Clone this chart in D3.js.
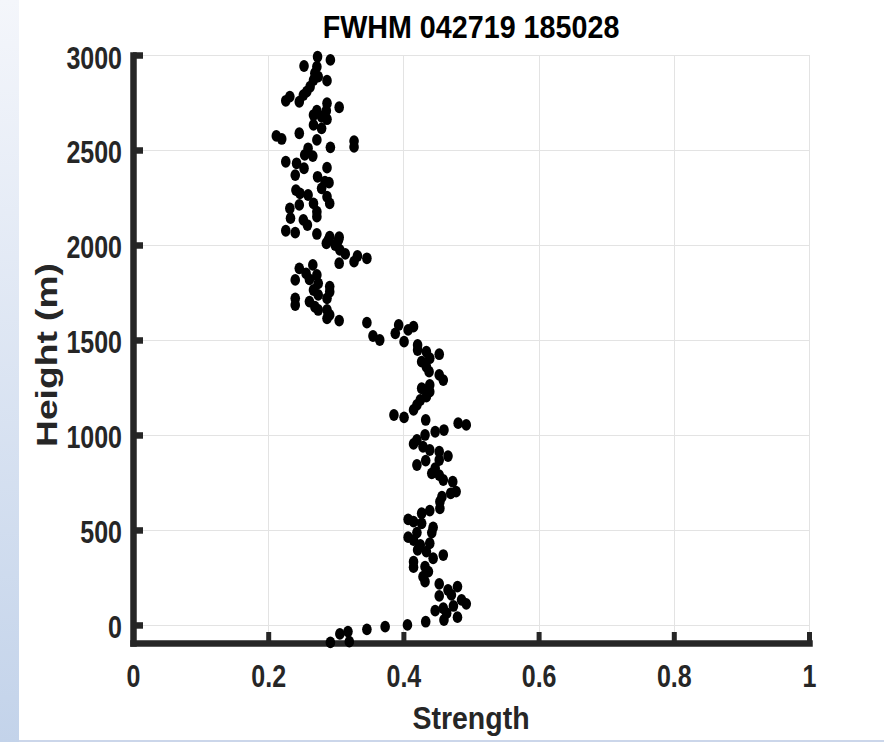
<!DOCTYPE html>
<html>
<head>
<meta charset="utf-8">
<title>FWHM 042719 185028</title>
<script src="https://d3js.org/d3.v7.min.js"></script>
<style>
  body { margin: 0; background: #fff; }
  svg { display: block; }
</style>
</head>
<body>
<svg id="chart" width="884" height="742"></svg>
<script>
// values, top of the profile first
const strength = [
  0.273,0.292,0.253,0.272,0.269,0.274,0.267,0.287,0.262,0.257,0.252,0.232,0.226,0.246,0.287,0.305,
  0.272,0.286,0.267,0.279,0.287,0.267,0.279,0.212,0.220,0.246,0.272,0.292,0.327,0.327,0.259,0.254,
  0.266,0.226,0.242,0.253,0.287,0.240,0.273,0.284,0.290,0.241,0.247,0.279,0.259,0.287,0.291,0.267,
  0.246,0.232,0.272,0.233,0.252,0.272,0.258,0.226,0.240,0.272,0.291,0.305,
  0.289,0.304,0.286,0.299,0.306,0.314,0.332,0.346,0.327,0.305,0.246,0.266,0.256,0.272,0.240,0.261,
  0.274,0.291,0.267,0.291,0.274,0.287,0.240,0.240,0.261,0.269,0.274,0.287,0.291,0.287,0.305,0.346,
  0.355,0.365,0.388,0.386,
  0.393,0.407,0.415,0.401,0.421,0.421,0.434,0.453,0.439,0.427,0.434,0.438,0.453,0.459,0.439,0.427,
  0.439,0.434,0.425,0.420,0.415,0.401,0.433,0.481,0.493,0.460,0.447,0.432,0.420,0.415,0.429,0.439,
  0.453,0.466,0.453,0.433,0.420,0.447,0.442,0.453,0.459,0.473,0.478,0.470,0.457,
  0.454,0.454,0.439,0.427,0.407,0.415,0.427,0.444,0.442,0.420,0.407,0.415,0.439,0.425,0.421,0.434,
  0.459,0.444,0.415,0.415,0.432,0.437,0.429,0.432,0.453,0.466,0.480,0.453,0.471,0.486,0.493,0.474,
  0.459,0.447,0.464,0.460,0.480,0.433,0.406,0.373,
  0.292,0.306,0.318,0.320,0.346
];
const height = [
  2991,2974,2942,2938,2904,2886,2868,2865,2833,2807,2789,2781,2759,2754,2746,2725,
  2707,2707,2684,2675,2662,2632,2614,2574,2558,2588,2553,2514,2547,2516,2509,2474,
  2468,2438,2430,2404,2407,2368,2359,2333,2328,2289,2272,2298,2263,2254,2219,2219,
  2211,2193,2175,2141,2132,2149,2105,2075,2065,2058,2044,2041,
  2026,2026,2009,2000,1974,1953,1942,1930,1912,1904,1877,1895,1851,1842,1816,1819,
  1798,1781,1763,1754,1737,1719,1719,1684,1702,1675,1658,1658,1632,1614,1602,1591,
  1521,1500,1535,1105,
  1579,1553,1570,1491,1474,1447,1438,1425,1404,1386,1359,1333,1316,1289,1263,1246,
  1228,1202,1184,1158,1132,1093,1079,1062,1053,1026,1017,1000,974,953,938,921,
  912,889,868,865,842,825,798,789,763,754,702,693,675,
  649,614,602,588,556,544,535,514,486,486,462,447,430,421,395,386,
  368,351,333,304,307,281,254,228,216,184,202,153,158,132,111,100,
  88,75,62,26,41,17,0,-9,
  -92,-47,-35,-88,-23
];
const xTicks = [0, 0.2, 0.4, 0.6, 0.8, 1];
const xTickLabels = ['0', '0.2', '0.4', '0.6', '0.8', '1'];
const yTicks = [0, 500, 1000, 1500, 2000, 2500, 3000];
const yTickLabels = ['0', '500', '1000', '1500', '2000', '2500', '3000'];

const titleText = 'FWHM 042719 185028';
const xLabel = 'Strength';
const yLabel = 'Height (m)';

const font = '"Liberation Sans", Arial, Helvetica, sans-serif';
const ink = '#262626';

const svg = d3.select('#chart');

// light blue strip on the left and thin line at the bottom of the window
const grad = svg.append('defs').append('linearGradient')
  .attr('id', 'strip').attr('x1', 0).attr('y1', 0).attr('x2', 0).attr('y2', 1);
grad.append('stop').attr('offset', '0%').attr('stop-color', '#f4f6fb');
grad.append('stop').attr('offset', '100%').attr('stop-color', '#c3d3ea');
svg.append('rect').attr('x', 0).attr('y', 0).attr('width', 19).attr('height', 742).attr('fill', 'url(#strip)');
svg.append('rect').attr('x', 19).attr('y', 740).attr('width', 865).attr('height', 2).attr('fill', '#cbd6ea');

const x = d3.scaleLinear().domain([0, 1]).range([133, 809]);
const y = d3.scaleLinear().domain([-95, 3000]).range([643, 55]);

// grid
const grid = svg.append('g').attr('stroke', '#e3e3e3').attr('stroke-width', 1);
grid.selectAll('line.v').data(xTicks).join('line').attr('class', 'v')
  .attr('x1', d => Math.round(x(d)) + 0.5).attr('x2', d => Math.round(x(d)) + 0.5)
  .attr('y1', y(3000)).attr('y2', y(-95));
grid.selectAll('line.h').data(yTicks).join('line').attr('class', 'h')
  .attr('x1', x(0)).attr('x2', x(1))
  .attr('y1', d => Math.round(y(d)) + 0.5).attr('y2', d => Math.round(y(d)) + 0.5);

// axes (ticks point inwards, thick lines like the original)
const yAxis = d3.axisLeft(y).tickValues(yTicks).tickFormat((d, i) => yTickLabels[i])
  .tickSizeInner(-10).tickSizeOuter(0).tickPadding(11);
const xAxis = d3.axisBottom(x).tickValues(xTicks).tickFormat((d, i) => xTickLabels[i])
  .tickSizeInner(-11).tickSizeOuter(0).tickPadding(11);

const gy = svg.append('g').attr('transform', `translate(${x(0)},0)`).call(yAxis);
const gx = svg.append('g').attr('transform', `translate(0,${y(-95)})`).call(xAxis);

[gy, gx].forEach(g => {
  g.select('.domain').attr('stroke', ink).attr('stroke-width', 6.5).attr('stroke-linecap', 'square');
  g.selectAll('.tick line').attr('stroke', ink);
  g.selectAll('.tick text')
    .attr('fill', ink).attr('font-family', font).attr('font-weight', 'bold')
    .attr('font-size', 25).attr('dy', null).attr('x', 0).attr('y', 0);
});
gy.selectAll('.tick line').attr('stroke-width', 6.5);
gx.selectAll('.tick line').attr('stroke-width', 5);
gy.selectAll('.tick text').attr('transform', 'translate(-11,13) scale(1,1.25)');
gx.selectAll('.tick text').attr('transform', 'translate(0,44) scale(1,1.25)');

// points
svg.append('g').selectAll('ellipse').data(strength).join('ellipse')
  .attr('cx', d => x(d)).attr('cy', (d, i) => y(height[i]))
  .attr('rx', 4.8).attr('ry', 5.9).attr('fill', '#000');

// title and labels
svg.append('text').text(titleText)
  .attr('transform', `translate(${(x(0) + x(1)) / 2},38) scale(1,1.12)`)
  .attr('text-anchor', 'middle').attr('font-family', font).attr('font-weight', 'bold')
  .attr('font-size', 28.7).attr('fill', '#000');

svg.append('text').text(xLabel)
  .attr('transform', `translate(${(x(0) + x(1)) / 2},729) scale(1,1.1)`)
  .attr('text-anchor', 'middle').attr('font-family', font).attr('font-weight', 'bold')
  .attr('font-size', 28.5).attr('fill', ink);

svg.append('text').text(yLabel)
  .attr('transform', 'translate(57,355) rotate(-90) scale(1.24,1)')
  .attr('text-anchor', 'middle').attr('font-family', font).attr('font-weight', 'bold')
  .attr('font-size', 30).attr('fill', ink);
</script>
</body>
</html>
